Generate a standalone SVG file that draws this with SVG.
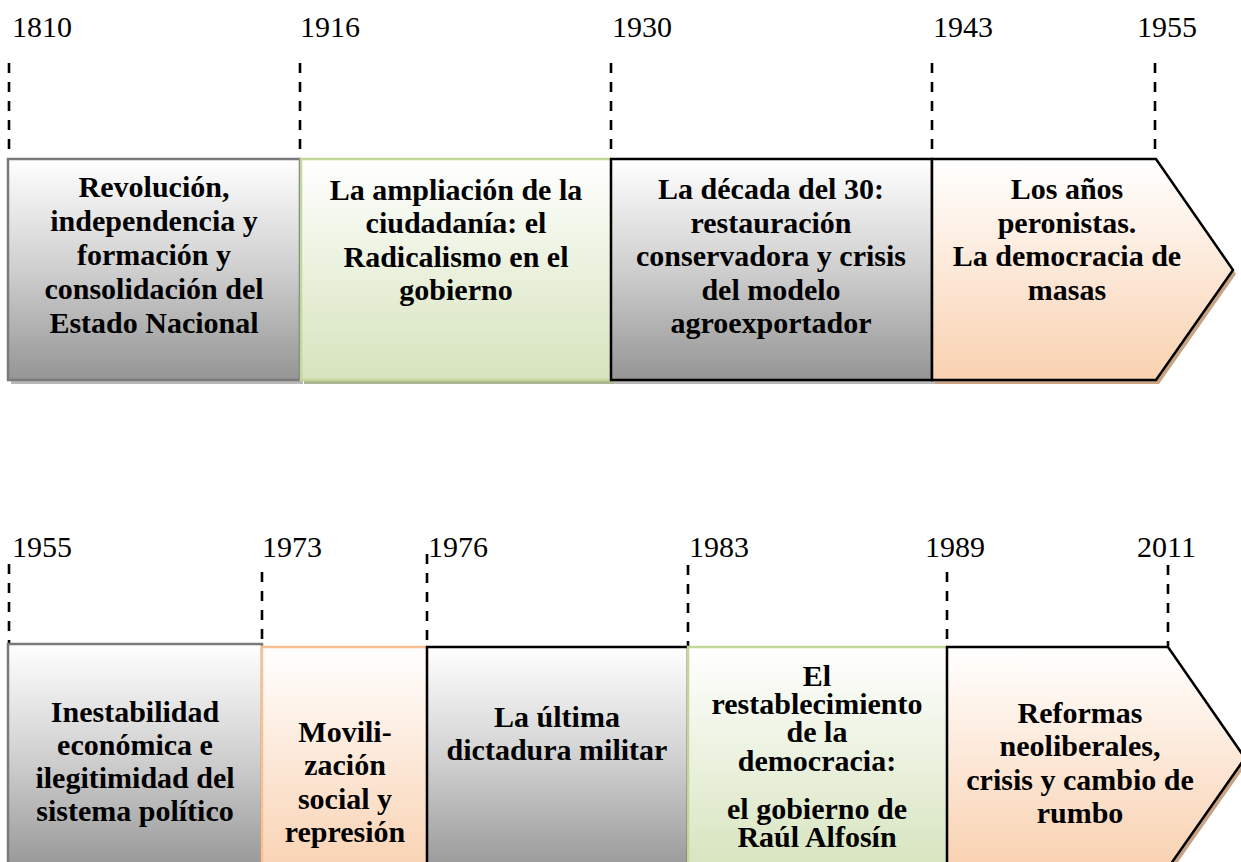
<svg xmlns="http://www.w3.org/2000/svg" width="1241" height="862" viewBox="0 0 1241 862">
<defs>
<linearGradient id="gGrey" x1="0" y1="0" x2="0" y2="1"><stop offset="0" stop-color="#ffffff"/><stop offset="0.5" stop-color="#cfcfcf"/><stop offset="1" stop-color="#959595"/></linearGradient>
<linearGradient id="gGreen" x1="0" y1="0" x2="0" y2="1"><stop offset="0" stop-color="#ffffff"/><stop offset="1" stop-color="#d6e3bc"/></linearGradient>
<linearGradient id="gPeach" x1="0" y1="0" x2="0" y2="1"><stop offset="0" stop-color="#ffffff"/><stop offset="1" stop-color="#f9d1b0"/></linearGradient>
<style>
.yr{font-family:"Liberation Serif","Times New Roman",serif;font-size:30px;fill:#000}
.lb{font-family:"Liberation Serif","Times New Roman",serif;font-size:30px;font-weight:bold;fill:#000;text-anchor:middle}
.dash{stroke:#000;stroke-width:2.6;stroke-dasharray:10 9;fill:none}
.grey{fill:url(#gGrey);stroke:#7a7a7a;stroke-width:2.5}
.greyk{fill:url(#gGrey);stroke:#000;stroke-width:2.5}
.green{fill:url(#gGreen);stroke:#c3d69b;stroke-width:2.5}
.peach{fill:url(#gPeach);stroke:#fac090;stroke-width:2.5}
.peachk{fill:url(#gPeach);stroke:#000;stroke-width:2.5}
.shG{fill:#b8b8b8}
.shN{fill:#a9b68f}
.shP{fill:#c7a383}
</style>
</defs>

<g id="connectors">
<line class="dash" x1="9" y1="63" x2="9" y2="158"/>
<line class="dash" x1="300" y1="63" x2="300" y2="158"/>
<line class="dash" x1="611" y1="63" x2="611" y2="158"/>
<line class="dash" x1="932" y1="63" x2="932" y2="158"/>
<line class="dash" x1="1155" y1="63" x2="1155" y2="158"/>
<line class="dash" x1="9" y1="564" x2="9" y2="643"/>
<line class="dash" x1="262" y1="572" x2="262" y2="646"/>
<line class="dash" x1="427" y1="554" x2="427" y2="646"/>
<line class="dash" x1="688" y1="565" x2="688" y2="646"/>
<line class="dash" x1="947" y1="572" x2="947" y2="646"/>
<line class="dash" x1="1168" y1="565" x2="1168" y2="646"/>
</g>

<g id="years">
<text class="yr" x="12" y="37">1810</text>
<text class="yr" x="300" y="37">1916</text>
<text class="yr" x="612" y="37">1930</text>
<text class="yr" x="933" y="37">1943</text>
<text class="yr" x="1137" y="37">1955</text>
<text class="yr" x="12" y="557">1955</text>
<text class="yr" x="262" y="557">1973</text>
<text class="yr" x="428" y="557">1976</text>
<text class="yr" x="689" y="557">1983</text>
<text class="yr" x="925" y="557">1989</text>
<text class="yr" x="1137" y="557">2011</text>
</g>

<g id="shadows">
<rect class="shG" x="11" y="163" width="292" height="221"/>
<rect class="shN" x="304" y="163" width="310" height="221"/>
<rect class="shG" x="614" y="163" width="321" height="221"/>
<polygon class="shP" points="935,163 1159,163 1236,274 1159,384 935,384"/>
<rect class="shG" x="11" y="648" width="254" height="230"/>
<rect class="shP" x="265" y="651" width="165" height="230"/>
<rect class="shG" x="430" y="651" width="261" height="230"/>
<rect class="shN" x="691" y="651" width="259" height="230"/>
<polygon class="shP" points="950,651 1171,651 1248,762 1171,872 950,872"/>
</g>

<g id="n1">
<rect class="grey" x="8" y="159" width="292" height="221"/>
<text class="lb" x="154" y="197">Revolución,</text>
<text class="lb" x="154" y="231">independencia y</text>
<text class="lb" x="154" y="265">formación y</text>
<text class="lb" x="154" y="299">consolidación del</text>
<text class="lb" x="154" y="333">Estado Nacional</text>
</g>
<g id="n2">
<rect class="green" x="301" y="159" width="310" height="221"/>
<text class="lb" x="456" y="200">La ampliación de la</text>
<text class="lb" x="456" y="233">ciudadanía: el</text>
<text class="lb" x="456" y="267">Radicalismo en el</text>
<text class="lb" x="456" y="300">gobierno</text>
</g>
<g id="n3">
<rect class="greyk" x="611" y="159" width="321" height="221"/>
<text class="lb" x="771" y="199">La década del 30:</text>
<text class="lb" x="771" y="233">restauración</text>
<text class="lb" x="771" y="266">conservadora y crisis</text>
<text class="lb" x="771" y="300">del modelo</text>
<text class="lb" x="771" y="333">agroexportador</text>
</g>
<g id="n4">
<polygon class="peachk" points="932,159 1156,159 1233,270 1156,380 932,380"/>
<text class="lb" x="1067" y="199">Los años</text>
<text class="lb" x="1067" y="233">peronistas.</text>
<text class="lb" x="1067" y="266">La democracia de</text>
<text class="lb" x="1067" y="300">masas</text>
</g>

<g id="n5">
<rect class="grey" x="8" y="644" width="254" height="230"/>
<text class="lb" x="135" y="722">Inestabilidad</text>
<text class="lb" x="135" y="755">económica e</text>
<text class="lb" x="135" y="788">ilegitimidad del</text>
<text class="lb" x="135" y="821">sistema político</text>
</g>
<g id="n6">
<rect class="peach" x="262" y="647" width="165" height="230"/>
<text class="lb" x="345" y="742">Movili-</text>
<text class="lb" x="345" y="775">zación</text>
<text class="lb" x="345" y="809">social y</text>
<text class="lb" x="345" y="842">represión</text>
</g>
<g id="n7">
<rect class="greyk" x="427" y="647" width="261" height="230"/>
<text class="lb" x="557" y="727">La última</text>
<text class="lb" x="557" y="760">dictadura militar</text>
</g>
<g id="n8">
<rect class="green" x="688" y="647" width="259" height="230"/>
<text class="lb" x="817" y="686">El</text>
<text class="lb" x="817" y="714">restablecimiento</text>
<text class="lb" x="817" y="742">de la</text>
<text class="lb" x="817" y="771">democracia:</text>
<text class="lb" x="817" y="819">el gobierno de</text>
<text class="lb" x="817" y="847">Raúl Alfosín</text>
</g>
<g id="n9">
<polygon class="peachk" points="947,647 1168,647 1245,758 1168,868 947,868"/>
<text class="lb" x="1080" y="723">Reformas</text>
<text class="lb" x="1080" y="756">neoliberales,</text>
<text class="lb" x="1080" y="790">crisis y cambio de</text>
<text class="lb" x="1080" y="823">rumbo</text>
</g>
</svg>
